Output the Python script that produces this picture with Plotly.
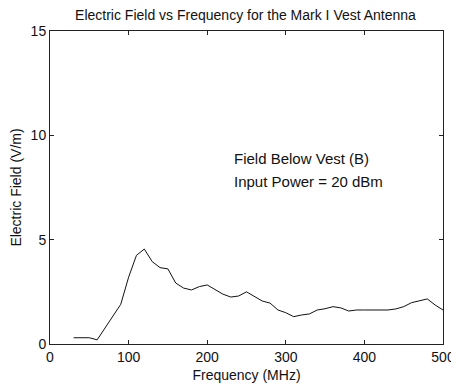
import plotly.graph_objects as go

# Frequency (MHz) and electric field (V/m)
freq = [30, 40, 50, 60, 70, 80, 90, 100, 110, 120, 130, 140, 150, 160, 170,
        180, 190, 200, 210, 220, 230, 240, 250, 260, 270, 280, 290, 300, 310,
        320, 330, 340, 350, 360, 370, 380, 390, 400, 410, 420, 430, 440, 450,
        460, 470, 480, 490, 500]
field = [0.3, 0.3, 0.3, 0.2, 0.75, 1.35, 1.9, 3.2, 4.25, 4.55, 3.95, 3.66,
         3.6, 2.92, 2.68, 2.59, 2.75, 2.83, 2.59, 2.39, 2.25, 2.3, 2.5, 2.27,
         2.06, 1.96, 1.63, 1.5, 1.31, 1.39, 1.44, 1.63, 1.69, 1.79, 1.73,
         1.58, 1.63, 1.63, 1.63, 1.6, 1.63, 1.68, 1.79, 1.98, 2.06, 2.16,
         1.87, 1.63]

x_ticks = [0, 100, 200, 300, 400, 500]
y_ticks = [0, 5, 10, 15]

FONT = "Liberation Sans, Arial, sans-serif"

fig = go.Figure()
fig.add_trace(go.Scatter(
    x=freq, y=field, mode="lines",
    line=dict(color="#111111", width=1),
    showlegend=False,
))

axis_common = dict(
    showgrid=False, zeroline=False, automargin=False,
    showline=True, linecolor="#222222", linewidth=1, mirror="ticks",
    ticks="inside", ticklen=4, tickcolor="#222222",
    tickfont=dict(size=14, color="#111111", family=FONT),
)

# the page body adds an 8px margin, so the figure is a bit smaller than the window
fig.update_layout(
    width=451, height=379,
    paper_bgcolor="white", plot_bgcolor="white",
    margin=dict(l=42, r=16, t=23, b=43),
    font=dict(family=FONT, color="#111111"),
    title=dict(
        text="Electric Field vs Frequency for the Mark I Vest Antenna",
        font=dict(size=14, color="#111111"),
        x=0.5266, xanchor="center", y=0.9805, yanchor="middle",
        automargin=False,
    ),
    xaxis=dict(
        range=[0, 500], tickvals=x_ticks,
        title=dict(text="Frequency (MHz)", font=dict(size=14), standoff=6),
        **axis_common,
    ),
    yaxis=dict(
        range=[0, 15], tickvals=y_ticks,
        title=dict(text="Electric Field (V/m)", font=dict(size=14), standoff=6),
        **axis_common,
    ),
    annotations=[
        dict(x=231, y=8.9, xref="x", yref="y", xanchor="left",
             text="Field Below Vest (B)", showarrow=False,
             font=dict(size=15, color="#111111")),
        dict(x=231, y=7.8, xref="x", yref="y", xanchor="left",
             text="Input Power = 20 dBm", showarrow=False,
             font=dict(size=15, color="#111111")),
    ],
)

fig.write_html("out.html")
